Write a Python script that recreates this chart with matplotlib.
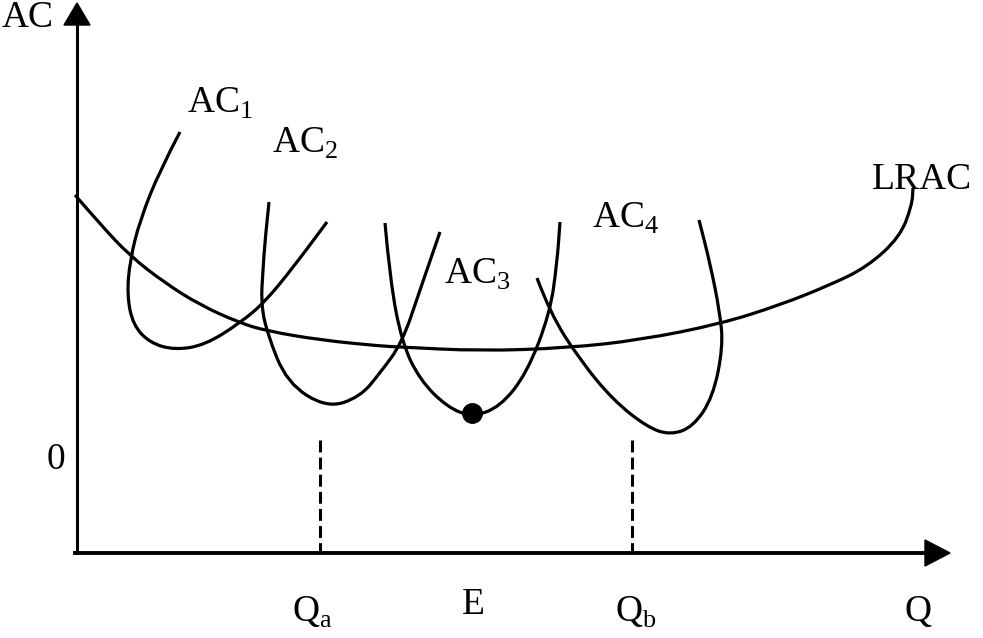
import numpy as np
import matplotlib
matplotlib.use('Agg')
import matplotlib.pyplot as plt
from matplotlib.path import Path
from matplotlib.patches import PathPatch

# curve points (pixel coordinates, y down)
lrac_x = [75, 100, 130, 165, 200, 240, 267, 320, 380, 400, 480, 567, 640, 720, 780, 830, 867, 900, 912, 913]
lrac_y = [195, 224, 256, 283, 305, 323, 331, 340, 346, 347, 351, 348, 340, 324, 305, 285, 267, 237, 205, 188]

ac1_x = [180, 160, 140, 130, 127, 133, 150, 175, 205, 240, 265, 295, 327]
ac1_y = [132, 170, 220, 260, 295, 325, 343, 350, 345, 323, 302, 265, 222]

ac2_x = [269, 265, 263, 261, 267, 287, 327, 360, 380, 402, 420, 440]
ac2_y = [202, 240, 270, 303, 333, 383, 408, 397, 373, 343, 290, 232]

ac3_x = [385, 390, 402, 420, 447, 472, 500, 527, 550, 557, 560]
ac3_y = [223, 280, 343, 380, 407, 417, 407, 373, 313, 263, 222]

ac4_x = [537, 550, 580, 613, 647, 670, 693, 713, 723, 720, 710, 699]
ac4_y = [278, 313, 360, 400, 427, 435, 427, 397, 347, 313, 263, 220]

point_e = (472, 413)
qa_x, qb_x = 320, 632

plt.rcParams['mathtext.fontset'] = 'custom'
plt.rcParams['mathtext.rm'] = 'Liberation Serif'
plt.rcParams['font.family'] = 'Liberation Serif'

fig = plt.figure(figsize=(9.83, 6.38), dpi=100)
ax = fig.add_axes([0, 0, 1, 1])
ax.set_xlim(0, 983)
ax.set_ylim(638, 0)
ax.axis('off')


def smooth(xs, ys):
    # quadratic bezier through midpoints of the read points
    pts = list(zip(xs, ys))
    verts = [pts[0]]
    codes = [Path.MOVETO]
    for i in range(1, len(pts) - 1):
        mid = ((pts[i][0] + pts[i + 1][0]) / 2, (pts[i][1] + pts[i + 1][1]) / 2)
        verts += [pts[i], mid]
        codes += [Path.CURVE3, Path.CURVE3]
    verts.append(pts[-1])
    codes.append(Path.LINETO)
    ax.add_patch(PathPatch(Path(verts, codes), fill=False, lw=2.3, color='black', capstyle='butt'))


for xs, ys in [(lrac_x, lrac_y), (ac1_x, ac1_y), (ac2_x, ac2_y), (ac3_x, ac3_y), (ac4_x, ac4_y)]:
    smooth(xs, ys)

# axes with arrows
ax.plot([77, 77], [553, 22], color='black', lw=2.2)
ax.add_patch(plt.Polygon([[64, 25], [90, 25], [77, 3]], color='black'))
ax.plot([75, 930], [553, 553], color='black', lw=2.8)
ax.add_patch(plt.Polygon([[925, 540], [925, 566], [950, 553]], color='black'))

# dashed guides
for qx in [qa_x, qb_x]:
    ax.plot([qx, qx], [440, 553], color='black', lw=2.2, ls=(0, (3.9, 1.7)))

ax.plot(*point_e, 'o', color='black', ms=14)

fs = 27
ax.text(2, 18, 'AC', fontsize=fs, va='center', ha='left')
ax.text(187, 103, r'AC$_\mathrm{1}$', fontsize=fs, va='center', ha='left')
ax.text(272, 143, r'AC$_\mathrm{2}$', fontsize=fs, va='center', ha='left')
ax.text(444, 274, r'AC$_\mathrm{3}$', fontsize=fs, va='center', ha='left')
ax.text(592, 218, r'AC$_\mathrm{4}$', fontsize=fs, va='center', ha='left')
ax.text(872, 180, 'LRAC', fontsize=fs, va='center', ha='left')
ax.text(56, 460, '0', fontsize=fs, va='center', ha='center')
ax.text(292, 612, r'Q$_\mathrm{a}$', fontsize=fs, va='center', ha='left')
ax.text(473, 605, 'E', fontsize=fs, va='center', ha='center')
ax.text(615, 612, r'Q$_\mathrm{b}$', fontsize=fs, va='center', ha='left')
ax.text(918, 612, 'Q', fontsize=fs, va='center', ha='center')

fig.savefig('out.png', dpi=100)
